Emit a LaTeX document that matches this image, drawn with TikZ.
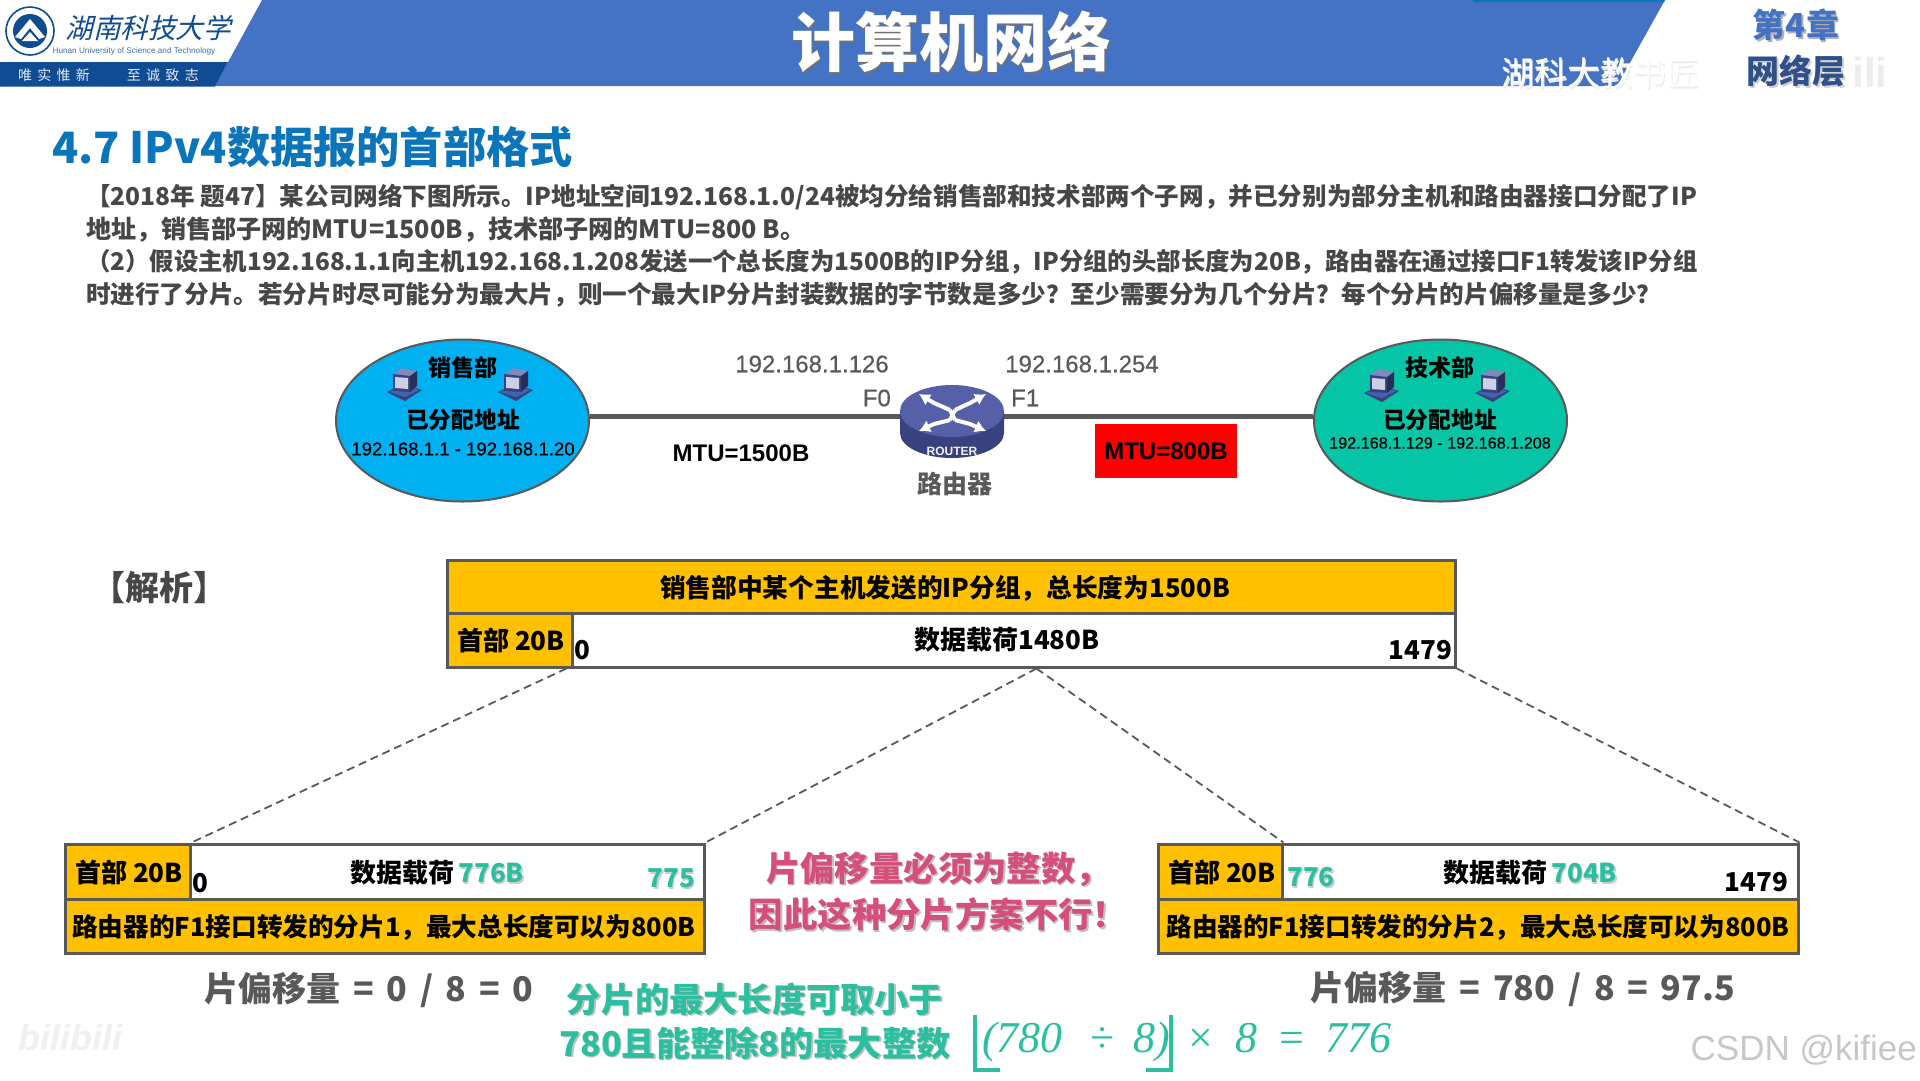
\documentclass[tikz,border=0pt]{standalone}
\usepackage{fontspec}
\usetikzlibrary{shapes.geometric,calc,arrows.meta}
\setmainfont{Liberation Sans}
\newfontfamily\cjk{Noto Sans CJK SC}
\newfontfamily\lib{Liberation Sans}
\newfontfamily\libm{Liberation Sans}[FakeBold=0.35]
\newfontfamily\ser{Liberation Serif}
\definecolor{hdr}{HTML}{4472C4}
\definecolor{navy}{HTML}{0F4C93}
\definecolor{ttl}{HTML}{0B75BC}
\definecolor{bodyc}{HTML}{474747}
\definecolor{edge}{HTML}{595959}
\definecolor{gold}{HTML}{FFC000}
\definecolor{mint}{HTML}{2BBFA0}
\definecolor{pinkc}{HTML}{D4507A}
\definecolor{skyb}{HTML}{00B0F0}
\definecolor{teal2}{HTML}{06C5A6}
\definecolor{rtop}{HTML}{5560A8}
\definecolor{rside}{HTML}{39427F}
\newcommand{\fs}[1]{\fontsize{#1}{#1}\selectfont}
\newcommand{\fb}{\cjk\bfseries}
\newcommand{\shad}[2][black!25]{\leavevmode\rlap{\kern1.6pt\lower1.6pt\hbox{\color{#1}#2}}#2}
\newcommand{\gp}{\hspace{5pt} }
\tikzset{
 x=1pt,y=-1pt,
 txt/.style={inner sep=0pt,outer sep=0pt,font=\fb},
 bodyline/.style={txt,anchor=west,text=bodyc},
 cell/.style={txt,font=\fb\fs{26},text=black},
 bar/.style={txt,font=\fb\fs{25.6},text=black},
 ipt/.style={inner sep=0pt,font=\libm\fs{24},text=edge},
 box/.style={draw=edge,line width=3pt},
 dashl/.style={draw=edge,line width=1.8pt,dash pattern=on 8pt off 5pt},
 blob/.style={draw=edge,line width=2pt,ellipse,minimum width=253pt,minimum height=162pt,inner sep=0pt},
 offs/.style={txt,font=\fb\fs{34},text=edge},
 pinkt/.style={txt,font=\fb\fs{34.4},text=pinkc},
 greent/.style={txt,font=\fb\fs{34.2},text=mint},
 rarrow/.style={white,line width=4pt,-{Latex[length=11pt,width=13pt]}},
}
% small desktop computer glyph
\newcommand{\pc}[1]{%
 \begin{scope}[shift={#1}]
  \fill[fill=rside] (-18,7) -- (-2,-1) -- (17,5) -- (0,16) -- cycle;
  \fill[fill=hdr!70!rside] (-16,7) -- (-2,0) -- (14,5) -- (0,12) -- cycle;
  \fill[fill=rtop!75!white] (-12,-11) -- (-3,-17) -- (12,-14) -- (5,-9) -- cycle;
  \fill[fill=rside!70!black] (5,-9) -- (12,-14) -- (12,1) -- (5,7) -- cycle;
  \fill[fill=rside] (-12,-11) -- (5,-9) -- (5,7) -- (-12,6) -- cycle;
  \fill[fill=rtop!30!white] (-10,-8) -- (3,-7) -- (3,4) -- (-10,3) -- cycle;
 \end{scope}}
\begin{document}
\begin{tikzpicture}
\useasboundingbox (0,0) rectangle (1920,1080);
\fill[white] (0,0) rectangle (1920,1080);
% header
\fill[hdr] (262,0) -- (1665,0) -- (1617,86) -- (215,86) -- cycle;
\fill[ttl] (1473,0) -- (1665,0) -- (1664,2) -- (1473,2) -- cycle;
\fill[navy] (0,62) -- (228,62) -- (215,86.5) -- (0,86.5) -- cycle;
% logo
\draw[navy,line width=1.6pt] (30,31) circle (24);
\fill[navy] (30,31) circle (17);
\fill[white] (30,19) -- (45,37) -- (39,39) -- (30,28) -- (21,39) -- (15,37) -- cycle;
\fill[white] (30,32) -- (38,41) -- (22,41) -- cycle;
\node[txt,text=navy,font=\cjk\fs{27.5}] (uni) at (148,28) {\addfontfeature{FakeSlant=0.25}湖南科技大学};
\node[txt,text=navy!80,font=\lib\fs{8.2}] (unien) at (134,51) {Hunan University of Science and Technology};
\node[txt,anchor=west,text=white!85!hdr,font=\cjk\fs{14}] (motto) at (18,75) {唯\hspace{5.3pt}实\hspace{5.3pt}惟\hspace{5.3pt}新\hspace{37pt}至\hspace{5.3pt}诚\hspace{5.3pt}致\hspace{5.3pt}志};
% titles
\node[txt,text=white,font=\fb\fs{64}] (main) at (951,43) {\shad[black!55]{计算机网络}};
\node[txt,text=white,font=\cjk\fs{33}] (wm) at (1600,74) {\shad[black!7]{湖科大教书匠}};
\node[txt,text=hdr,font=\fb\fs{33}] (chap) at (1796,26) {\shad[black!30]{第4章}};
\node[txt,text=hdr!70!black,font=\fb\fs{33}] (layer) at (1796,72) {\shad[black!18]{网络层}};
\node[txt,text=black!7,font=\lib\bfseries\fs{42}] (bili1) at (1870,72) {ili};
\node[txt,anchor=west,text=ttl,font=\fb\fs{43.2}] (sec) at (52,147) {4.7 IPv4数据报的首部格式};
% question
\node[bodyline,font=\fb\fs{24.6}] (q1) at (86,197) {【2018年 题47】某公司网络下图所示。IP地址空间192.168.1.0/24被均分给销售部和技术部两个子网，并已分别为部分主机和路由器接口分配了IP};
\node[bodyline,font=\fb\fs{25.1}] (q2) at (86,230) {地址，销售部子网的MTU=1500B，技术部子网的MTU=800 B。};
\node[bodyline,font=\fb\fs{24.4}] (q3) at (86,262) {（2）假设主机192.168.1.1向主机192.168.1.208发送一个总长度为1500B的IP分组，IP分组的头部长度为20B，路由器在通过接口F1转发该IP分组};
\node[bodyline,font=\fb\fs{24.6}] (q4) at (86,295) {时进行了分片。若分片时尽可能分为最大片，则一个最大IP分片封装数据的字节数是多少？至少需要分为几个分片？每个分片的片偏移量是多少？};
% network
\node[blob,fill=skyb] (lan1) at (462.5,420.5) {};
\node[blob,fill=teal2] (lan2) at (1440.5,420.5) {};
\node[inner sep=0pt,minimum width=104pt,minimum height=86pt] (rt) at (952,416) {};
\draw[edge,line width=5pt] (lan1.east |- rt.west) -- (rt.west);
\draw[edge,line width=5pt] (rt.east) -- (rt.east -| lan2.west);
% router body
\fill[rside] (900,411) -- (900,433) arc[start angle=180,end angle=0,x radius=52,y radius=25] -- (1004,411) -- cycle;
\fill[rtop] (952,411) ellipse [x radius=52,y radius=26];
\draw[rarrow] (950,410) -- (934,403) -- (919,394);
\draw[rarrow] (955,410) -- (970,403) -- (986,394);
\draw[rarrow] (950,420) -- (934,424) -- (919,431);
\draw[rarrow] (955,420) -- (970,424) -- (986,431);
\draw[white,line width=4pt] (950,410) -- (955,420);
\draw[white,line width=4pt] (955,410) -- (950,420);
\node[txt,text=white!92!rtop,font=\lib\bfseries\fs{12}] (rlabel) at (952,451) {ROUTER};
\node[txt,font=\fb\fs{25},text=edge] (rname) at (955,484) {路由器};
\pc{(405,385)} \pc{(516,385)} \pc{(1382,386)} \pc{(1493,386)}
\node[txt,font=\fb\fs{23},text=black] (n1) at (463,368) {销售部};
\node[txt,font=\fb\fs{22.7},text=black] (a1) at (463,420) {已分配地址};
\node[txt,font=\libm\fs{18.6},text=black] (r1) at (463,449) {192.168.1.1 - 192.168.1.20};
\node[txt,font=\fb\fs{23},text=black] (n2) at (1440,368) {技术部};
\node[txt,font=\fb\fs{22.7},text=black] (a2) at (1440,420) {已分配地址};
\node[txt,font=\libm\fs{16.2},text=black] (r2) at (1440,443) {192.168.1.129 - 192.168.1.208};
\node[ipt] (ip0) at (812,364) {192.168.1.126};
\node[ipt] (ip1) at (1082,364) {192.168.1.254};
\node[ipt,anchor=east] (f0) at (891,398) {F0};
\node[ipt,anchor=west] (f1) at (1011,398) {F1};
\node[inner sep=0pt,font=\lib\bfseries\fs{24}] (m1) at (741,453) {MTU=1500B};
\node[fill=red,minimum width=142pt,minimum height=54pt,inner sep=0pt,font=\lib\bfseries\fs{24}] (m2) at (1166,451) {\raisebox{-2pt}{MTU=800B}};
\node[txt,font=\fb\fs{34},text=bodyc] (ana) at (159,588) {【解析】};
% top packet
\node[box,fill=gold,minimum width=1008pt,minimum height=53pt,inner sep=0pt] (pk) at (951.5,586.5) {};
\node[box,fill=white,minimum width=1008pt,minimum height=54pt,inner sep=0pt] (pd) at (951.5,640) {};
\node[box,fill=gold,minimum width=125pt,minimum height=54pt,inner sep=0pt] (ph) at (509.5,640) {};
\node[bar,font=\fb\fs{25.7}] (pkt) at (945,588) {销售部中某个主机发送的IP分组，总长度为1500B};
\node[cell] (pht) at (511,640) {首部 20B};
\node[cell] (pdt) at (1007,640) {数据载荷1480B};
\node[cell] (p0) at (582,650) {0};
\node[cell,anchor=east] (p1) at (1452,650) {1479};
% fragment 1
\node[box,fill=white,minimum width=639pt,minimum height=55pt,inner sep=0pt] (ad) at (384.5,871.5) {};
\node[box,fill=gold,minimum width=125pt,minimum height=55pt,inner sep=0pt] (ah) at (127.5,871.5) {};
\node[box,fill=gold,minimum width=639pt,minimum height=54pt,inner sep=0pt] (ab) at (384.5,926) {};
\node[cell] (aht) at (129,872) {首部 20B};
\node[cell] (a0) at (200,883) {0};
\node[cell] (adt) at (437,873) {数据载荷\,{\color{mint}\shad[black!20]{776B}}};
\node[cell,anchor=east,text=mint] (a775) at (695,879) {\shad[black!20]{775}};
\node[bar] (abt) at (384,927) {路由器的F1接口转发的分片1，最大总长度可以为800B};
% fragment 2
\node[box,fill=white,minimum width=640pt,minimum height=55pt,inner sep=0pt] (bd) at (1478,871.5) {};
\node[box,fill=gold,minimum width=124pt,minimum height=55pt,inner sep=0pt] (bh) at (1220,871.5) {};
\node[box,fill=gold,minimum width=640pt,minimum height=54pt,inner sep=0pt] (bb) at (1478,926) {};
\node[cell] (bht) at (1222,872) {首部 20B};
\node[cell,text=mint] (b0) at (1311,878) {\shad[black!20]{776}};
\node[cell] (bdt) at (1530,873) {数据载荷\,{\color{mint}\shad[black!20]{704B}}};
\node[cell,anchor=east] (b1) at (1788,882) {1479};
\node[bar] (bbt) at (1478,927) {路由器的F1接口转发的分片2，最大总长度可以为800B};
% dashed links
\draw[dashl] ([xshift=-7pt]ph.south east) -- (ah.north east);
\draw[dashl] (pd.south) ++(85,0) coordinate (mid) -- (ad.north east);
\draw[dashl] (mid) -- (bh.north east);
\draw[dashl] (pd.south east) -- (bd.north east);
% notes
\node[offs] (o1) at (369,990) {片偏移量\gp=\gp0\gp/\gp8\gp=\gp0};
\node[offs] (o2) at (1523,989) {片偏移量\gp=\gp780\gp/\gp8\gp=\gp97.5};
\node[pinkt] (w1) at (938,870) {\shad{片偏移量必须为整数，}};
\node[pinkt] (w2) at (938,915) {\shad{因此这种分片方案不行！}};
\node[greent] (g1) at (755,1000) {\shad{分片的最大长度可取小于}};
\node[greent] (g2) at (755,1044) {\shad{780且能整除8的最大整数}};
% formula
\coordinate (fl) at (975,1015);
\coordinate (fr) at (1171,1015);
\draw[mint,line width=4.5pt] (fl) -- ++(0,55) -- ++(25,0);
\draw[mint,line width=4.5pt] (fr) -- ++(0,55) -- ++(-25,0);
\node[inner sep=0pt,anchor=base west,text=mint,font=\ser\itshape\fs{44}] (fa) at (982,1052) {(780\hspace{28pt}{\upshape÷}\hspace{18pt}8)};
\node[inner sep=0pt,anchor=base west,text=mint,font=\ser\itshape\fs{44}] (fb) at (1188,1052) {{\upshape×}\,\,\,8\,\,\,{\upshape=}\,\,\,776};
% watermarks
\node[inner sep=0pt,anchor=east,text=black!22,font=\lib\fs{35}] (csdn) at (1917,1050) {CSDN @kifiee};
\node[txt,text=black!6,font=\lib\bfseries\itshape\fs{36}] (bili2) at (70,1038) {bilibili};
\end{tikzpicture}
\end{document}
